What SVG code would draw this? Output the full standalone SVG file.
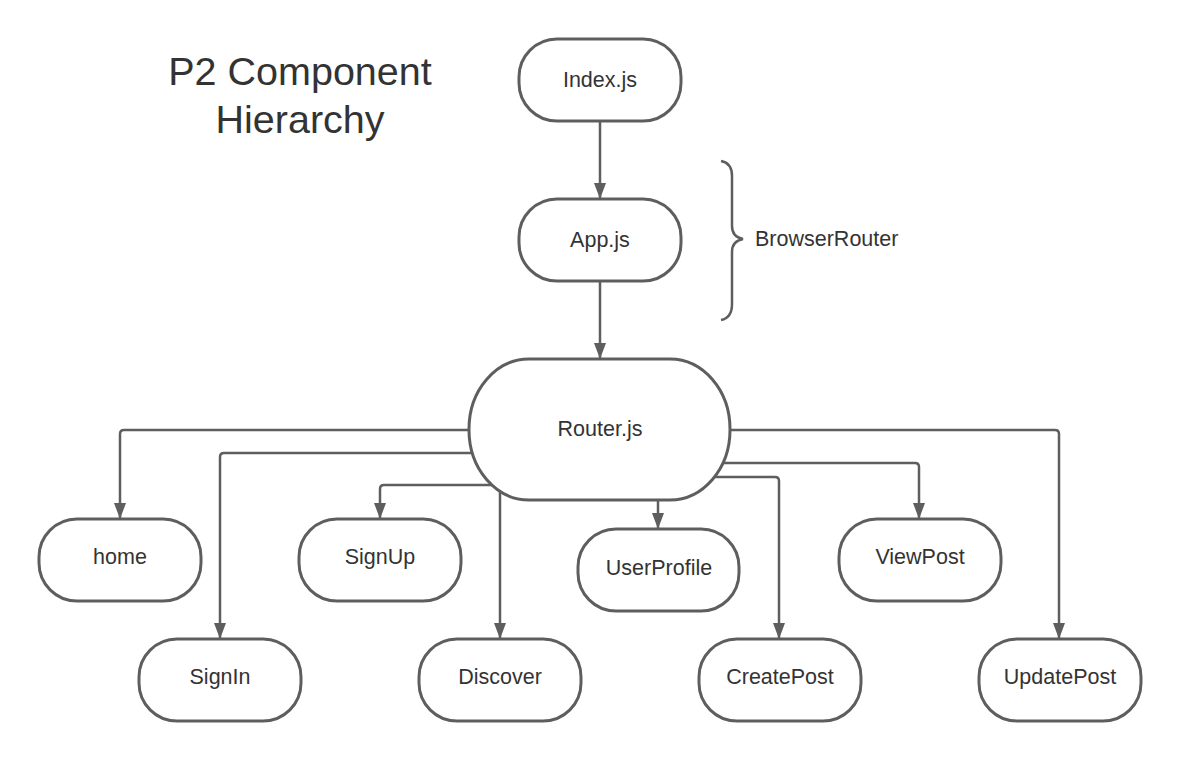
<svg xmlns="http://www.w3.org/2000/svg" width="1180" height="760" viewBox="0 0 1180 760">
<style>
.node{fill:#ffffff;stroke:#5e5e5e;stroke-width:3}
.lbl{font-family:"Liberation Sans",Arial,sans-serif;font-size:21.5px;fill:#333333;text-anchor:middle}
.conn{fill:none;stroke:#5e5e5e;stroke-width:2.5}
.title{font-family:"Liberation Sans",Arial,sans-serif;font-size:39.5px;fill:#333333;text-anchor:middle}
</style>
<defs>
<marker id="arr" viewBox="0 0 16 12" refX="16" refY="6" markerWidth="16" markerHeight="12" markerUnits="userSpaceOnUse" orient="auto">
<path d="M0,0 L16,6 L0,12 z" fill="#5e5e5e"/>
</marker>
</defs>
<rect width="1180" height="760" fill="#ffffff"/>
<g id="title">
<text class="title" x="300" y="85">P2 Component</text>
<text class="title" x="300" y="133">Hierarchy</text>
</g>
<g id="connectors">
<path class="conn" marker-end="url(#arr)" d="M600 121 V199"/>
<path class="conn" marker-end="url(#arr)" d="M600 281 V359"/>
<path class="conn" marker-end="url(#arr)" d="M478 430 H124 Q120 430 120 434 V519"/>
<path class="conn" marker-end="url(#arr)" d="M480 453 H224 Q220 453 220 457 V639"/>
<path class="conn" marker-end="url(#arr)" d="M500 485 H384 Q380 485 380 489 V519"/>
<path class="conn" marker-end="url(#arr)" d="M500 486 V639"/>
<path class="conn" marker-end="url(#arr)" d="M658 495 V529"/>
<path class="conn" marker-end="url(#arr)" d="M705 477 H775 Q779 477 779 481 V639"/>
<path class="conn" marker-end="url(#arr)" d="M712 463 H915 Q919 463 919 467 V519"/>
<path class="conn" d="M722 430 H1055 Q1059 430 1059 434 V639" marker-end="url(#arr)"/>
</g>
<g id="brace">
<path class="conn" d="M721 161 Q732 163 732 176 V226 Q732 237 743 239 Q732 241 732 252 V304 Q732 318 721 320"/>
<text class="lbl" x="755" y="246" style="text-anchor:start">BrowserRouter</text>
</g>
<g id="index"><rect class="node" x="519" y="39" width="162" height="82" rx="38" ry="38"/><text class="lbl" x="600" y="87">Index.js</text></g>
<g id="app"><rect class="node" x="519" y="199" width="162" height="82" rx="38" ry="38"/><text class="lbl" x="600" y="247">App.js</text></g>
<g id="router"><rect class="node" x="469" y="359" width="261" height="141" rx="60" ry="70"/><text class="lbl" x="600" y="436">Router.js</text></g>
<g id="home"><rect class="node" x="39" y="519" width="162" height="82" rx="38" ry="38"/><text class="lbl" x="120" y="564">home</text></g>
<g id="signup"><rect class="node" x="299" y="519" width="162" height="82" rx="38" ry="38"/><text class="lbl" x="380" y="564">SignUp</text></g>
<g id="userprofile"><rect class="node" x="578" y="529" width="161" height="82" rx="38" ry="38"/><text class="lbl" x="659" y="575">UserProfile</text></g>
<g id="viewpost"><rect class="node" x="839" y="519" width="162" height="82" rx="38" ry="38"/><text class="lbl" x="920" y="564">ViewPost</text></g>
<g id="signin"><rect class="node" x="139" y="639" width="162" height="82" rx="38" ry="38"/><text class="lbl" x="220" y="684">SignIn</text></g>
<g id="discover"><rect class="node" x="419" y="639" width="162" height="82" rx="38" ry="38"/><text class="lbl" x="500" y="684">Discover</text></g>
<g id="createpost"><rect class="node" x="699" y="639" width="162" height="82" rx="38" ry="38"/><text class="lbl" x="780" y="684">CreatePost</text></g>
<g id="updatepost"><rect class="node" x="979" y="639" width="162" height="82" rx="38" ry="38"/><text class="lbl" x="1060" y="684">UpdatePost</text></g>
</svg>
